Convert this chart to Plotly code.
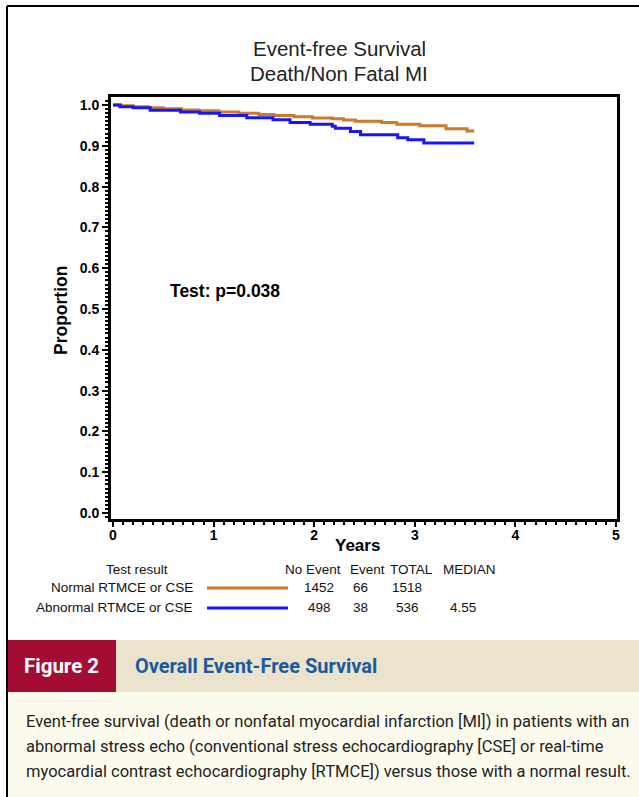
import plotly.graph_objects as go

# Kaplan-Meier style step data (years, proportion event-free)
normal_years = [0, 0.08, 0.2, 0.35, 0.5, 0.68, 0.85, 1.05, 1.25, 1.45, 1.6, 1.8, 1.98,
                2.18, 2.29, 2.41, 2.67, 2.82, 3.05, 3.31, 3.52, 3.59]
normal_surv = [1.0, 0.998, 0.996, 0.993, 0.991, 0.988, 0.986, 0.983, 0.980, 0.977, 0.974,
               0.971, 0.968, 0.966, 0.963, 0.960, 0.957, 0.953, 0.949, 0.942, 0.936, 0.936]

abnormal_years = [0, 0.07, 0.2, 0.37, 0.67, 0.86, 1.06, 1.33, 1.59, 1.76, 1.96, 2.18,
                  2.21, 2.36, 2.46, 2.83, 2.93, 3.09, 3.59]
abnormal_surv = [1.0, 0.996, 0.993, 0.987, 0.983, 0.980, 0.974, 0.969, 0.964, 0.957, 0.953,
                 0.948, 0.943, 0.935, 0.927, 0.920, 0.915, 0.907, 0.907]

# Summary table
groups = ["Normal RTMCE or CSE", "Abnormal RTMCE or CSE"]
no_event = [1452, 498]
event = [66, 38]
total = [1518, 536]
median = ["", "4.55"]
table_headers = ["No Event", "Event", "TOTAL", "MEDIAN"]

x_ticks = [0, 1, 2, 3, 4, 5]
y_ticks = [0.0, 0.1, 0.2, 0.3, 0.4, 0.5, 0.6, 0.7, 0.8, 0.9, 1.0]

ORANGE = "rgb(205,122,42)"
BLUE = "rgb(25,20,250)"

W, H = 639, 797
L, R, T, B = 111, 617, 97, 519


def px(x):
    return (x - L) / (R - L)


def py(y):
    return (B - y) / (B - T)


def note(x, y, text, font, xanchor="center", **kw):
    return dict(x=px(x), y=py(y), xref="paper", yref="paper", text=text,
                xanchor=xanchor, yanchor="middle", showarrow=False, font=font, **kw)


fig = go.Figure()
fig.add_trace(go.Scatter(x=normal_years, y=normal_surv, mode="lines",
                         line=dict(color=ORANGE, width=3, shape="hv"), showlegend=False))
fig.add_trace(go.Scatter(x=abnormal_years, y=abnormal_surv, mode="lines",
                         line=dict(color=BLUE, width=3, shape="hv"), showlegend=False))

sans = "Liberation Sans, Arial, sans-serif"
narrow = "Roboto, Liberation Sans, sans-serif"

ann = []
# Title
ann.append(note(339, 48, "Event-free Survival", dict(family=sans, size=20.5, color="#222")))
ann.append(note(339, 73, "Death/Non Fatal MI", dict(family=sans, size=20.5, color="#222")))
# Axis titles
ann.append(note(61, 311, "Proportion", dict(family=sans, size=17.5, color="black", weight="bold"),
                textangle=-90))
ann.append(note(357, 545, "Years", dict(family=sans, size=17, color="black", weight="bold")))
# p-value
ann.append(dict(x=0.55, y=0.543, xref="x", yref="y", xanchor="left", yanchor="middle",
                text="Test: p=0.038", showarrow=False,
                font=dict(family=sans, size=17.5, color="black", weight="bold")))

# Table
tfont = dict(family=sans, size=13.5, color="#111")
ann.append(note(137, 569, "Test result", tfont))
col_x = [313, 367, 411, 469]
for cx, h in zip(col_x, table_headers):
    ann.append(note(cx, 569, h, tfont))
val_x = [319, 360, 407, 463]
row_y = [587, 607]
colors = [ORANGE, BLUE]
shapes = []
for i, g in enumerate(groups):
    ann.append(note(195, row_y[i], g, tfont, xanchor="right"))
    for cx, v in zip(val_x, [no_event[i], event[i], total[i], median[i]]):
        ann.append(note(cx, row_y[i], str(v), tfont))
    shapes.append(dict(type="line", xref="paper", yref="paper", x0=px(207), x1=px(288),
                       y0=py(row_y[i] + 1), y1=py(row_y[i] + 1), line=dict(color=colors[i], width=3)))

# Caption panel
shapes.append(dict(type="rect", xref="paper", yref="paper", x0=px(8), x1=px(640),
                   y0=py(692), y1=py(640), fillcolor="#ebe3cb", line=dict(width=0), layer="below"))
shapes.append(dict(type="rect", xref="paper", yref="paper", x0=px(8), x1=px(640),
                   y0=py(798), y1=py(692), fillcolor="#fdfbee", line=dict(width=0), layer="below"))
shapes.append(dict(type="rect", xref="paper", yref="paper", x0=px(8), x1=px(116),
                   y0=py(692), y1=py(640), fillcolor="#a30d34", line=dict(width=0), layer="below"))
# Outer frame
shapes.append(dict(type="line", xref="paper", yref="paper", x0=px(7), x1=px(7),
                   y0=py(798), y1=py(6), line=dict(color="black", width=2)))
shapes.append(dict(type="line", xref="paper", yref="paper", x0=px(7), x1=px(640),
                   y0=py(6), y1=py(6), line=dict(color="black", width=2)))

ann.append(note(61, 666, "Figure 2", dict(family=narrow, size=20.5, color="white", weight="bold")))
ann.append(note(133, 666, "Overall Event-Free Survival",
                dict(family=narrow, size=20, color="#1b5a9c", weight="bold"), xanchor="left"))
caption = [
    "Event-free survival (death or nonfatal myocardial infarction [MI]) in patients with an",
    "abnormal stress echo (conventional stress echocardiography [CSE] or real-time",
    "myocardial contrast echocardiography [RTMCE]) versus those with a normal result.",
]
for i, line in enumerate(caption):
    ann.append(note(24, 721 + 25 * i, line, dict(family=narrow, size=16.5, color="#222"),
                    xanchor="left"))

fig.update_layout(
    width=W, height=H,
    margin=dict(l=L, r=W - R, t=T, b=H - B, pad=0),
    paper_bgcolor="white", plot_bgcolor="white",
    annotations=ann, shapes=shapes,
    xaxis=dict(range=[-0.0199, 5.0099], tickvals=x_ticks, ticktext=[str(v) for v in x_ticks],
               showgrid=False, zeroline=False, showline=True, linecolor="black", linewidth=3,
               mirror=True, ticks="outside", ticklen=5, tickwidth=2, tickcolor="black",
               ticklabelstandoff=-4,
               minor=dict(dtick=0.1, ticks="outside", ticklen=3, tickwidth=1.5, tickcolor="black"),
               tickfont=dict(family=sans, size=14, color="black", weight="bold")),
    yaxis=dict(range=[-0.0147, 1.0196], tickvals=y_ticks, ticktext=[f"{v:.1f}" for v in y_ticks],
               showgrid=False, zeroline=False, showline=True, linecolor="black", linewidth=3,
               mirror=True, ticks="outside", ticklen=6, tickwidth=2, tickcolor="black",
               minor=dict(dtick=0.01, ticks="outside", ticklen=3, tickwidth=1.5, tickcolor="black"),
               tickfont=dict(family=sans, size=14, color="black", weight="bold")),
)

fig.write_html("out.html")
